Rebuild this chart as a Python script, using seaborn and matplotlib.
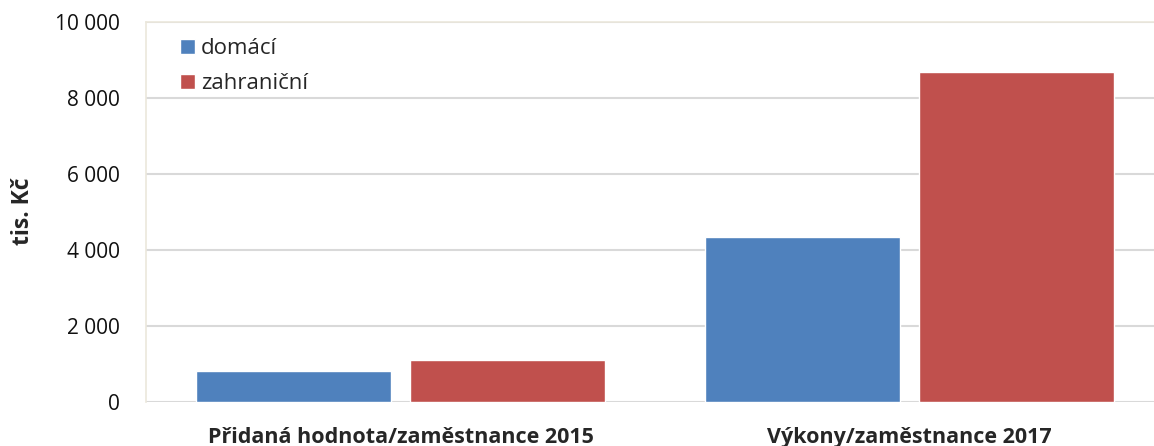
import matplotlib
matplotlib.use("Agg")
import matplotlib.pyplot as plt
import seaborn as sns
import pandas as pd

categories = ["Přidaná hodnota/zaměstnance 2015", "Výkony/zaměstnance 2017"]
series_names = ["domácí", "zahraniční"]
domaci = [800, 4340]
zahranicni = [1100, 8670]
yticks = [0, 2000, 4000, 6000, 8000, 10000]
ytick_labels = ["0", "2 000", "4 000", "6 000", "8 000", "10 000"]
colors = ["#4f81bd", "#c0504d"]

df = pd.DataFrame({
    "kategorie": categories * 2,
    "typ": [series_names[0]] * 2 + [series_names[1]] * 2,
    "hodnota": domaci + zahranicni,
})

sns.set_theme(style="white")
plt.rcParams["font.family"] = ["Open Sans", "DejaVu Sans"]

fig = plt.figure(figsize=(11.54, 4.46), dpi=100)
ax = fig.add_axes([0.1265, 0.0993, 0.8735, 0.852])

sns.barplot(data=df, x="kategorie", y="hodnota", hue="typ", palette=colors,
            width=0.84, gap=0.09, ax=ax, saturation=1, errorbar=None)

ax.set_xlim(-0.5, 1.48)
ax.set_ylim(0, 10000)
ax.set_yticks(yticks)
ax.set_yticklabels(ytick_labels, fontsize=15)
ax.yaxis.grid(True, color="#d9d9d9", linewidth=1.5)
ax.set_axisbelow(True)
ax.tick_params(axis="y", length=0, pad=19, labelcolor="#111111")
ax.tick_params(axis="x", length=0, pad=18)
for lbl in ax.get_xticklabels():
    lbl.set_fontsize(15.5)
    lbl.set_fontweight("bold")
ax.set_xlabel("")
ax.set_ylabel("tis. Kč", fontsize=16.5, fontweight="bold", labelpad=14)

for s in ["right", "bottom"]:
    ax.spines[s].set_visible(False)
for s in ["left", "top"]:
    ax.spines[s].set_color("#ebe7dc")
    ax.spines[s].set_linewidth(1.2)

leg = ax.legend(loc="upper left", bbox_to_anchor=(0.014, 1.01), frameon=False,
                fontsize=16, handlelength=0.65, handleheight=0.65,
                handletextpad=0.28, labelspacing=0.65)

fig.savefig("out.png", dpi=100)
